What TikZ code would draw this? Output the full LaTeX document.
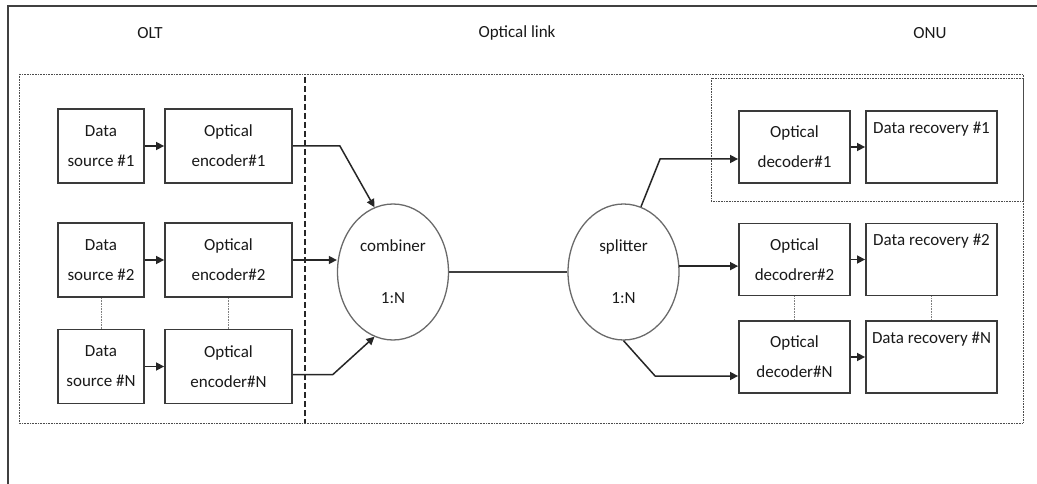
\documentclass[tikz,border=0pt]{standalone}
\usepackage{fontspec}
\setmainfont{Carlito}
\usetikzlibrary{arrows.meta,shapes.geometric,calc}
\definecolor{boxgray}{HTML}{3A3A3A}
\definecolor{ringgray}{HTML}{6A6A6A}
\begin{document}
\begin{tikzpicture}[
		x=1pt, y=-1pt,
		font=\fontsize{17}{30}\selectfont,
		every node/.style = {text=black!90, align=center},
		block/.style = {shape=rectangle, draw=boxgray, line width=1.8pt,
			minimum height=74pt, inner sep=0pt},
		srcbox/.style = {block, minimum width=86pt},
		encbox/.style = {block, minimum width=127pt},
		decbox/.style = {block, minimum width=111pt, minimum height=72pt},
		recbox/.style = {block, minimum width=131pt, minimum height=72pt},
		ring/.style = {shape=ellipse, draw=ringgray, line width=1.3pt,
			minimum width=111pt, minimum height=136pt, inner sep=0pt},
		arr/.style = {draw=black!85, line width=1.5pt, -{Triangle[length=8pt,width=8pt]}},
		link/.style = {draw=black!75, line width=1.3pt},
		dots/.style = {draw=gray, line width=0.6pt, densely dotted},
		frame/.style = {draw=black!75, line width=1.8pt},
		]
		
		\useasboundingbox (0,0) rectangle (1037,484);
		
		% frame and regions
		\draw[frame] (8,484) -- (8,6) -- (1037,6);
		\draw[dots, draw=black!70] (19,74) rectangle (1023,423);
		\draw[dots, draw=black!70] (711,78) rectangle (1023,201);
		\draw[draw=black!85, line width=1.2pt, dash pattern=on 6pt off 3pt] (305,77) -- (305,423);
		
		\node (olt)  at (150,33) {OLT};
		\node (olnk) at (517,33) {Optical link};
		\node (onu)  at (930,33) {ONU};
		
		% OLT side
		\node[srcbox] (src1) at (101,146)   {Data\\source \#1};
		\node[encbox] (enc1) at (228.5,146) {Optical\\encoder\#1};
		\node[srcbox] (src2) at (101,260)   {Data\\source \#2};
		\node[encbox] (enc2) at (228.5,260) {Optical\\encoder\#2};
		\node[srcbox] (srcN) at (101,366.5)   {Data\\source \#N};
		\node[encbox] (encN) at (228.5,366.5) {Optical\\encoder\#N};
		
		\node[ring] (comb)  at (393,272) {combiner\\[22pt]1:N};
		\node[ring] (split) at (623.5,272) {splitter\\[22pt]1:N};
		
		% ONU side
		\node[decbox] (dec1) at (794.5,147) {Optical\\decoder\#1};
		\node[recbox] (rec1) at (931.5,147) {Data recovery \#1\\\strut};
		\node[decbox] (dec2) at (794.5,259.5) {Optical\\decodrer\#2};
		\node[recbox] (rec2) at (931.5,259.5) {Data recovery \#2\\\strut};
		\node[decbox] (decN) at (794.5,357) {Optical\\decoder\#N};
		\node[recbox] (recN) at (931.5,357) {Data recovery \#N\\\strut};
		
		% connectors
		\draw[arr] (src1) -- (enc1);
		\draw[arr] (src2) -- (enc2);
		\draw[arr] (srcN) -- (encN);
		\draw[dots] (src2.south) -- (srcN.north);
		\draw[dots] (enc2.south) -- (encN.north);
		
		\draw[arr] (enc1.east) -- ++(47,0) -- (comb.106);
		\draw[arr] (enc2.east) -- (enc2.east -| comb.west);
		\draw[arr] ([yshift=-8pt]encN.east) -- ++(40,0) -- (comb.254);
		
		\draw[link] (comb.east) -- (split.west);
		
		\draw[arr] (split.75) -- ([xshift=-78pt,yshift=-12pt]dec1.west) -- ([yshift=-12pt]dec1.west);
		\draw[arr] (split.6) -- (split.6 -| dec2.west);
		\draw[arr] (split.south) -- ([xshift=-83pt,yshift=-19pt]decN.west) -- ([yshift=-19pt]decN.west);
		
		\draw[arr] (dec1) -- (rec1);
		\draw[arr] (dec2) -- (rec2);
		\draw[arr] (decN) -- (recN);
		\draw[dots] (dec2.south) -- (decN.north);
		\draw[dots] (rec2.south) -- (recN.north);
		\end{tikzpicture}
\end{document}
